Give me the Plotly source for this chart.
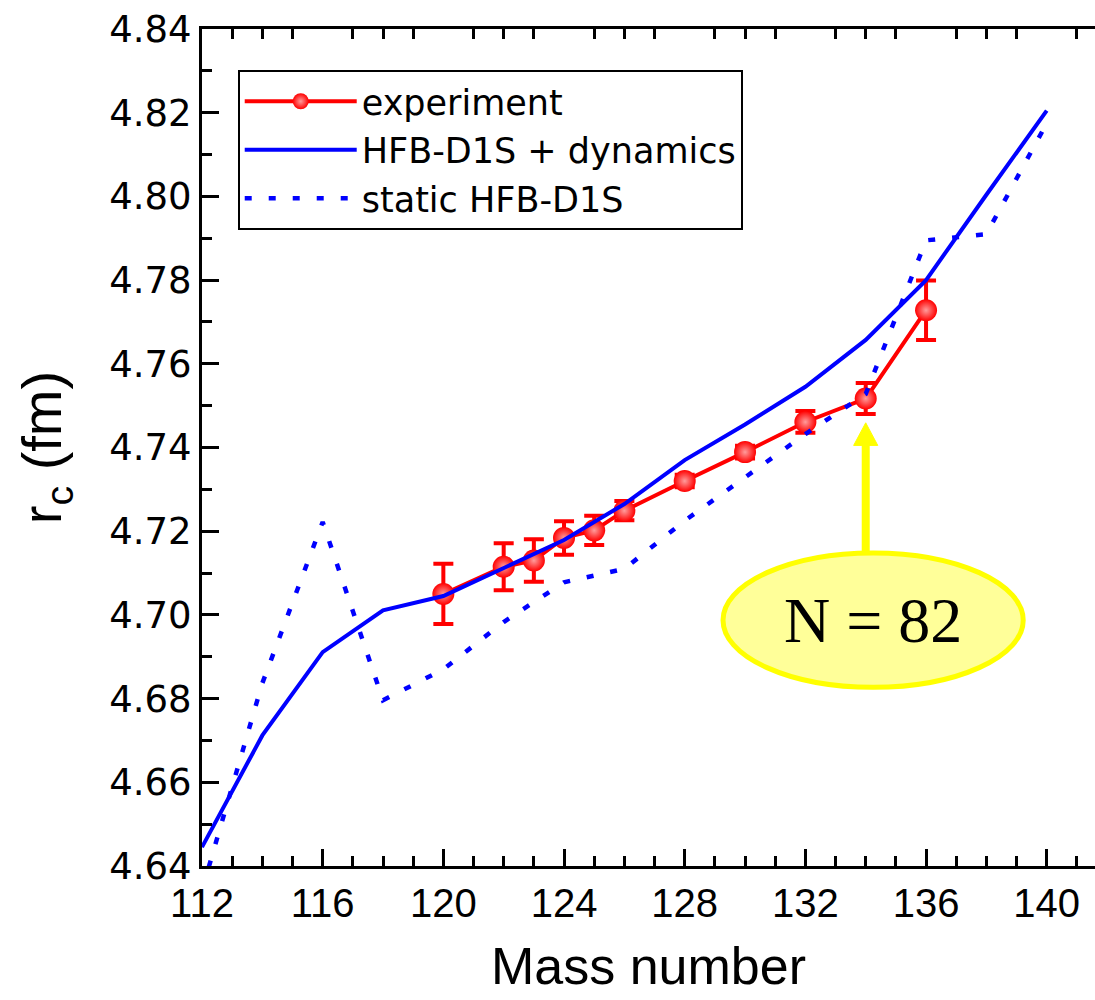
import plotly.graph_objects as go

# ---- data ----
mass_exp = [120, 122, 123, 124, 125, 126, 128, 130, 132, 134, 136]
rc_exp = [4.7050, 4.7115, 4.7130, 4.7184, 4.7202, 4.7249, 4.7320, 4.7389, 4.7461, 4.7517, 4.7728]
rc_exp_err = [0.0072, 0.0056, 0.0051, 0.0040, 0.0035, 0.0023, 0.0015, 0.0015, 0.0026, 0.0037, 0.0071]

mass_theory = [112, 114, 116, 118, 120, 122, 124, 126, 128, 130, 132, 134, 136, 138, 140]
rc_dynamics = [4.6445, 4.6712, 4.6911, 4.7011, 4.7045, 4.7112, 4.7179, 4.7265, 4.7370,
               4.7455, 4.7545, 4.7657, 4.7800, 4.8004, 4.8205]
rc_static = [4.6342, 4.6837, 4.7222, 4.6796, 4.6870, 4.6983, 4.7078, 4.7110, 4.7225,
             4.7330, 4.7432, 4.7528, 4.7895, 4.7910, 4.8175]

x_ticks = [112, 116, 120, 124, 128, 132, 136, 140]
x_minor_top = [m for m in range(112, 142) if m % 4 != 0]
y_ticks = [4.64, 4.66, 4.68, 4.70, 4.72, 4.74, 4.76, 4.78, 4.80, 4.82, 4.84]

magic_mass = 134
magic_label = "N = 82"

RED = "#FF0000"
BLUE = "#0000FF"
YELLOW = "#FFFF00"

fig = go.Figure()

fig.add_trace(go.Scatter(
    x=mass_exp, y=rc_exp, mode="lines+markers", name="experiment",
    line=dict(color=RED, width=4),
    marker=dict(color=RED, size=22, line=dict(width=0),
                gradient=dict(type="radial", color="#ff9c9c")),
    error_y=dict(type="data", array=rc_exp_err, color=RED, thickness=4, width=10),
))
fig.add_trace(go.Scatter(
    x=mass_theory, y=rc_dynamics, mode="lines", name="HFB-D1S + dynamics",
    line=dict(color=BLUE, width=4),
))
fig.add_trace(go.Scatter(
    x=mass_theory, y=rc_static, mode="lines", name="static HFB-D1S",
    line=dict(color=BLUE, width=4.5, dash="7px,17px"),
))
# invisible trace to host the top axis
fig.add_trace(go.Scatter(x=[mass_theory[0]], y=[rc_dynamics[0]], xaxis="x2",
                         mode="markers", marker=dict(opacity=0), showlegend=False,
                         hoverinfo="skip"))

x_range = [112, 141.6]
y_range = [4.64, 4.84]

tick_font = dict(family="Liberation Sans, Arial, sans-serif", size=40, color="black")

fig.update_layout(
    width=1095, height=1000,
    margin=dict(l=202, r=0, t=29, b=134),
    paper_bgcolor="white", plot_bgcolor="white",
    showlegend=True,
    legend=dict(
        x=0.040, y=0.951, xanchor="left", yanchor="top",
        bgcolor="white", bordercolor="black", borderwidth=2,
        font=dict(family="DejaVu Sans, sans-serif", size=35, color="black"),
        itemwidth=112, tracegroupgap=0,
    ),
    xaxis=dict(
        range=x_range, tickvals=x_ticks, ticktext=[str(v) for v in x_ticks],
        ticks="inside", ticklen=17, tickwidth=2.5, tickcolor="black",
        minor=dict(dtick=1, tick0=112, ticks="inside", ticklen=10, tickwidth=2.5, tickcolor="black"),
        showline=True, linecolor="black", linewidth=3,
        showgrid=False, zeroline=False, tickfont=tick_font,
        title=dict(text="Mass number", font=dict(family="Liberation Sans, Arial, sans-serif", size=52, color="black"), standoff=24),
    ),
    xaxis2=dict(
        range=x_range, overlaying="x", side="top", anchor="y",
        tickvals=x_minor_top, ticks="inside", ticklen=10, tickwidth=2.5, tickcolor="black",
        showticklabels=False, showline=True, linecolor="black", linewidth=3,
        showgrid=False, zeroline=False,
    ),
    yaxis=dict(
        range=y_range, tickvals=y_ticks, tickformat=".2f",
        ticks="inside", ticklen=17, tickwidth=2.5, tickcolor="black",
        minor=dict(dtick=0.01, tick0=4.64, ticks="inside", ticklen=10, tickwidth=2.5, tickcolor="black"),
        showline=True, linecolor="black", linewidth=3,
        showgrid=False, zeroline=False,
        tickfont=dict(family="DejaVu Sans, sans-serif", size=37, color="black"),
        title=dict(text="r<sub>c</sub> (fm)", font=dict(family="Liberation Sans, Arial, sans-serif", size=56, color="black"), standoff=30),
    ),
)

# ---- N = 82 annotation: arrow + ellipse ----
arrow_tip = 4.7459
head_base = 4.7405
ell_top = 4.7148
ell_bot = 4.6827
ell_x0, ell_x1 = 129.27, 139.22
head_half = 0.40

fig.add_shape(type="line", xref="x", yref="y",
              x0=magic_mass, x1=magic_mass, y0=ell_top, y1=head_base + 0.0005,
              line=dict(color=YELLOW, width=8))
fig.add_shape(type="path", xref="x", yref="y",
              path=f"M {magic_mass - head_half},{head_base} L {magic_mass + head_half},{head_base} L {magic_mass},{arrow_tip} Z",
              fillcolor=YELLOW, line=dict(color=YELLOW, width=1))
fig.add_shape(type="circle", xref="x", yref="y",
              x0=ell_x0, x1=ell_x1, y0=ell_bot, y1=ell_top,
              fillcolor="#FFFF99", line=dict(color=YELLOW, width=5))
fig.add_annotation(x=(ell_x0 + ell_x1) / 2, y=(ell_bot + ell_top) / 2, xref="x", yref="y",
                   text=magic_label, showarrow=False,
                   font=dict(family="Liberation Serif, Times New Roman, serif", size=64, color="black"))

fig.write_html("out.html")
